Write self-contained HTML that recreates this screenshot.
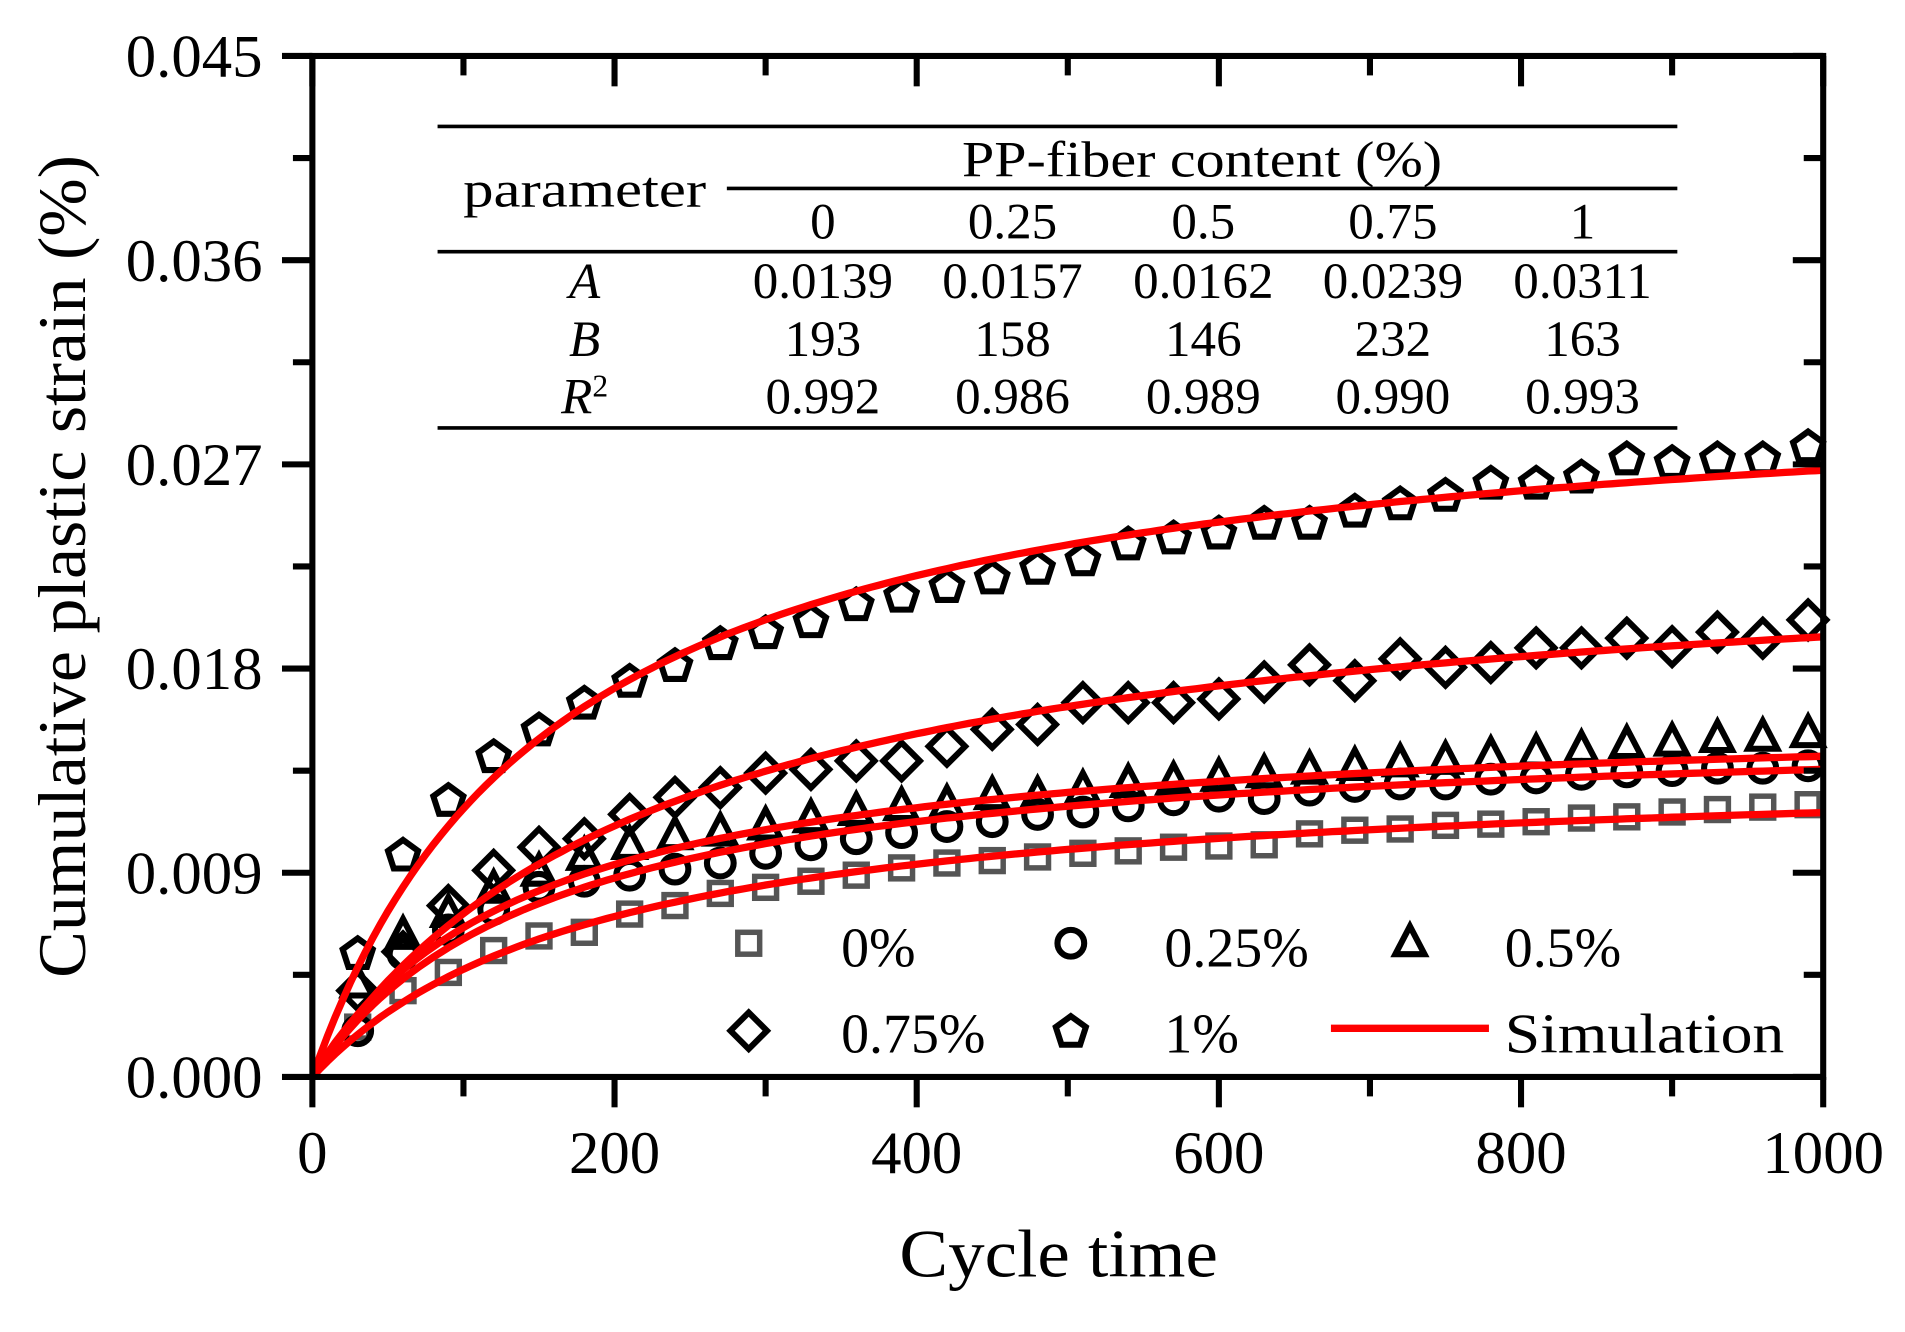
<!DOCTYPE html>
<html><head><meta charset="utf-8"><style>html,body{margin:0;padding:0;background:#fff}svg{display:block}</style></head>
<body>
<svg id="s" width="1905" height="1332" viewBox="0 0 1567.3 1095.8" xmlns="http://www.w3.org/2000/svg" font-family="Liberation Serif, serif">
<rect width="1567.3" height="1095.8" fill="#fff"/>
<g id="data"></g>
<g id="axes" stroke="#000" stroke-width="5" fill="none">
<rect x="257" y="46" width="1243" height="840"/>
</g>
<g id="ticks" stroke="#000" stroke-width="5"></g>
<g font-size="50" fill="#000" text-anchor="end">
<text x="216" y="903">0.000</text>
<text x="216" y="735">0.009</text>
<text x="216" y="567">0.018</text>
<text x="216" y="399">0.027</text>
<text x="216" y="231">0.036</text>
<text x="216" y="63">0.045</text>
</g>
<g font-size="50" fill="#000" text-anchor="middle">
<text x="257" y="965">0</text>
<text x="505.6" y="965">200</text>
<text x="754.2" y="965">400</text>
<text x="1002.8" y="965">600</text>
<text x="1251.4" y="965">800</text>
<text x="1500" y="965">1000</text>
</g>
<text x="871" y="1050" font-size="56" text-anchor="middle" textLength="262" lengthAdjust="spacingAndGlyphs">Cycle time</text>
<text transform="translate(70,466) rotate(-90)" font-size="56" text-anchor="middle" textLength="677" lengthAdjust="spacingAndGlyphs">Cumulative plastic strain (%)</text>
<g stroke="#000" stroke-width="3">
<line x1="360" y1="104" x2="1380" y2="104"/>
<line x1="598" y1="155" x2="1380" y2="155"/>
<line x1="360" y1="207" x2="1380" y2="207"/>
<line x1="360" y1="352" x2="1380" y2="352"/>
</g>
<g font-size="42" fill="#000" text-anchor="middle">
<text x="989" y="145" textLength="395" lengthAdjust="spacingAndGlyphs">PP-fiber content (%)</text>
<text x="481" y="170" textLength="200" lengthAdjust="spacingAndGlyphs">parameter</text>
<text x="677" y="196">0</text><text x="833" y="196">0.25</text><text x="990" y="196">0.5</text><text x="1146" y="196">0.75</text><text x="1302" y="196">1</text>
<text x="481" y="245" font-style="italic">A</text>
<text x="677" y="245">0.0139</text><text x="833" y="245">0.0157</text><text x="990" y="245">0.0162</text><text x="1146" y="245">0.0239</text><text x="1302" y="245">0.0311</text>
<text x="481" y="293" font-style="italic">B</text>
<text x="677" y="293">193</text><text x="833" y="293">158</text><text x="990" y="293">146</text><text x="1146" y="293">232</text><text x="1302" y="293">163</text>
<text x="481" y="340"><tspan font-style="italic">R</tspan><tspan font-size="26" dy="-14">2</tspan></text>
<text x="677" y="340">0.992</text><text x="833" y="340">0.986</text><text x="990" y="340">0.989</text><text x="1146" y="340">0.990</text><text x="1302" y="340">0.993</text>
</g>
<g id="leg"></g>
<g font-size="46" fill="#000">
<text x="692" y="795">0%</text>
<text x="958" y="795">0.25%</text>
<text x="1238" y="795">0.5%</text>
<text x="692" y="866">0.75%</text>
<text x="958" y="866">1%</text>
<text x="1238" y="866" textLength="230" lengthAdjust="spacingAndGlyphs">Simulation</text>
</g>
<line x1="1095" y1="846" x2="1225" y2="846" stroke="#f00" stroke-width="6"/>
<script>
var NS="http://www.w3.org/2000/svg";
function el(p,t,a){var e=document.createElementNS(NS,t);for(var k in a)e.setAttribute(k,a[k]);p.appendChild(e);return e;}
var tk=document.getElementById('ticks');
for(var i=0;i<=10;i++){var y=886-i*84;var maj=i%2==0;
 el(tk,'line',{x1:257-(maj?25:16),y1:y,x2:257,y2:y});
 el(tk,'line',{x1:1500,y1:y,x2:1500-(maj?25:16),y2:y});}
for(var i=0;i<=10;i++){var x=257+i*124.3;var maj=i%2==0;
 el(tk,'line',{x1:x,y1:886,x2:x,y2:886+(maj?25:16)});
 el(tk,'line',{x1:x,y1:46,x2:x,y2:46+(maj?25:16)});}
function X(c){return 257+c*1.243;}
function marker(g,type,x,y){
 var sw=5,c='#000';
 if(type=='sq'){el(g,'rect',{x:x-9,y:y-9,width:18,height:18,fill:'none',stroke:'#555','stroke-width':4.5});}
 else if(type=='ci'){el(g,'circle',{cx:x,cy:y,r:11,fill:'none',stroke:c,'stroke-width':sw});}
 else if(type=='tr'){el(g,'polygon',{points:(x)+','+(y-14)+' '+(x+12)+','+(y+9)+' '+(x-12)+','+(y+9),fill:'none',stroke:c,'stroke-width':sw});}
 else if(type=='di'){el(g,'polygon',{points:x+','+(y-15)+' '+(x+15)+','+y+' '+x+','+(y+15)+' '+(x-15)+','+y,fill:'none',stroke:c,'stroke-width':sw});}
 else if(type=='pe'){var p=[];for(var k=0;k<5;k++){var a=-Math.PI/2+k*2*Math.PI/5;p.push((x+13*Math.cos(a))+','+(y+1+13*Math.sin(a)));}
  el(g,'polygon',{points:p.join(' '),fill:'none',stroke:c,'stroke-width':sw});}
}
var D={
pe:[784,703,658,622,600,578,560,547,529,520,511,497,490,482,475,467,460,447,442,438,430,430,420,414,407,397,397,392,377,380,377,377,367],
di:[815,783,745,716,697,690,670,656,648,636,633,626,626,614,600,596,578,578,578,575,561,547,560,542,549,545,533,533,525,532,520,525,510],
tr:[810,770,752,732,718,705,696,688,685,680,674,668,664,662,655,655,650,645,643,640,637,634,631,628,626,622,620,617,613,611,608,607,604],
ci:[848,785,765,748,730,725,720,715,710,702,695,690,685,680,676,670,668,663,658,655,657,650,647,645,645,641,640,637,635,634,632,632,630],
sq:[845,815,800,782,770,767,752,745,735,730,725,720,714,710,708,705,702,700,697,696,695,686,683,682,679,678,676,673,672,668,666,664,662]};
var g=document.getElementById('data');
['sq','ci','tr','di','pe'].forEach(function(t){D[t].forEach(function(y,i){marker(g,t,X(30*(i+1)),y);});});
var P=[[0.0139,193],[0.0157,158],[0.0162,146],[0.0239,232],[0.0311,163]];
P.forEach(function(p){var pts=[];for(var c=0;c<=1000;c+=5){var v=p[0]*c/(p[1]+c);pts.push(X(c).toFixed(1)+','+(886-v*840/0.045).toFixed(1));}
 el(g,'polyline',{points:pts.join(' '),fill:'none',stroke:'#f00','stroke-width':6});});
var lg=document.getElementById('leg');
marker(lg,'sq',616,776);marker(lg,'ci',881,776);marker(lg,'tr',1160,776);
marker(lg,'di',616,848);marker(lg,'pe',881,848);
</script>
</svg>
</body></html>
